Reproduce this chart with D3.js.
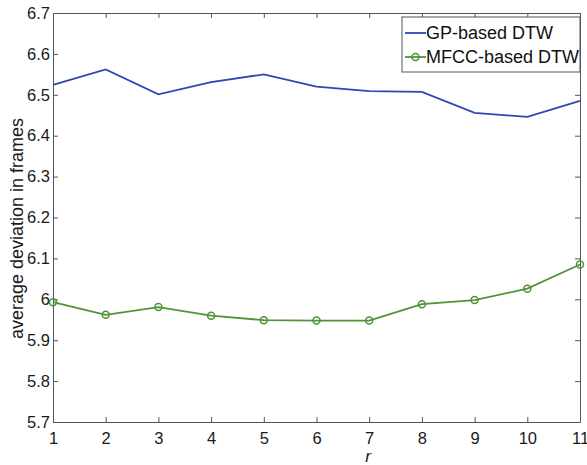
<!DOCTYPE html>
<html lang="en">
<head>
    <meta charset="UTF-8">
    <title>Average deviation vs r</title>
    <script src="https://d3js.org/d3.v7.min.js"></script>
    <style>
        body {
            margin: 0;
            padding: 0;
            background-color: #fff;
            font-family: 'Liberation Sans', Arial, sans-serif;
        }
        svg { display: block; }
        .axis path, .axis line { stroke: #555; }
        .axis text { font-size: 16.5px; fill: #1a1a1a; font-family: 'Liberation Sans', Arial, sans-serif; }
    </style>
</head>
<body>
    <script>
        // data
        const rValues = [1, 2, 3, 4, 5, 6, 7, 8, 9, 10, 11];
        const gpDTW = [6.524, 6.562, 6.501, 6.531, 6.550, 6.520, 6.509, 6.507, 6.456, 6.446, 6.485];
        const mfccDTW = [5.993, 5.962, 5.981, 5.960, 5.949, 5.948, 5.948, 5.988, 5.998, 6.026, 6.085];
        const yTicks = [5.7, 5.8, 5.9, 6, 6.1, 6.2, 6.3, 6.4, 6.5, 6.6, 6.7];
        const seriesNames = ["GP-based DTW", "MFCC-based DTW"];
        const seriesColors = ["#2f45b8", "#4f9438"];

        const width = 587, height = 465;
        const margin = { top: 13, right: 7, bottom: 43, left: 53 };
        const innerW = width - margin.left - margin.right;
        const innerH = height - margin.top - margin.bottom;

        const svg = d3.select("body").append("svg")
            .attr("width", width)
            .attr("height", height);

        const g = svg.append("g")
            .attr("transform", `translate(${margin.left},${margin.top})`);

        const x = d3.scaleLinear().domain([1, 11]).range([0, innerW]);
        const y = d3.scaleLinear().domain([5.7, 6.7]).range([innerH, 0]);

        const tickLen = 5;

        // bottom axis (ticks inward)
        g.append("g")
            .attr("class", "axis")
            .attr("transform", `translate(0,${innerH})`)
            .call(d3.axisBottom(x).tickValues(rValues).tickSize(-tickLen).tickPadding(12).tickSizeOuter(0))
            .selectAll("text").attr("dy", "0.6em");

        // top axis mirror
        g.append("g")
            .attr("class", "axis")
            .call(d3.axisTop(x).tickValues(rValues).tickSize(-tickLen).tickFormat("").tickSizeOuter(0));

        // left axis
        g.append("g")
            .attr("class", "axis")
            .call(d3.axisLeft(y).tickValues(yTicks).tickSize(-tickLen).tickPadding(3).tickSizeOuter(0)
                .tickFormat(d => d === 6 ? "6" : d3.format(".1f")(d)));

        // right axis mirror
        g.append("g")
            .attr("class", "axis")
            .attr("transform", `translate(${innerW},0)`)
            .call(d3.axisRight(y).tickValues(yTicks).tickSize(-tickLen).tickFormat("").tickSizeOuter(0));

        const line = d3.line()
            .x((d, i) => x(rValues[i]))
            .y(d => y(d));

        g.append("path")
            .datum(gpDTW)
            .attr("fill", "none")
            .attr("stroke", seriesColors[0])
            .attr("stroke-width", 1.8)
            .attr("d", line);

        g.append("path")
            .datum(mfccDTW)
            .attr("fill", "none")
            .attr("stroke", seriesColors[1])
            .attr("stroke-width", 1.8)
            .attr("d", line);

        g.selectAll(".marker")
            .data(mfccDTW)
            .enter()
            .append("circle")
            .attr("class", "marker")
            .attr("cx", (d, i) => x(rValues[i]))
            .attr("cy", d => y(d))
            .attr("r", 3.5)
            .attr("fill", "none")
            .attr("stroke", seriesColors[1])
            .attr("stroke-width", 1.5);

        // legend
        const legend = g.append("g")
            .attr("transform", `translate(${innerW - 178},4)`);
        legend.append("rect")
            .attr("width", 178)
            .attr("height", 55)
            .attr("fill", "#fff")
            .attr("stroke", "#555")
            .attr("stroke-width", 1);

        seriesNames.forEach((name, i) => {
            const ly = 16 + i * 24;
            legend.append("line")
                .attr("x1", 3).attr("x2", 24)
                .attr("y1", ly).attr("y2", ly)
                .attr("stroke", seriesColors[i])
                .attr("stroke-width", 1.8);
            if (i === 1) {
                legend.append("circle")
                    .attr("cx", 13.5).attr("cy", ly).attr("r", 3.5)
                    .attr("fill", "none")
                    .attr("stroke", seriesColors[i])
                    .attr("stroke-width", 1.5);
            }
            legend.append("text")
                .attr("x", 24)
                .attr("y", ly)
                .attr("dy", "0.36em")
                .style("font-size", "18px")
                .style("fill", "#111")
                .text(name);
        });

        // axis labels
        svg.append("text")
            .attr("transform", `translate(23,${margin.top + innerH / 2 + 11}) rotate(-90)`)
            .attr("text-anchor", "middle")
            .style("font-size", "18px")
            .style("fill", "#1a1a1a")
            .text("average deviation in frames");

        svg.append("text")
            .attr("x", margin.left + x(7) - 1)
            .attr("y", 462)
            .attr("text-anchor", "middle")
            .style("font-size", "17px")
            .style("font-style", "italic")
            .style("fill", "#1a1a1a")
            .text("r");
    </script>
</body>
</html>
